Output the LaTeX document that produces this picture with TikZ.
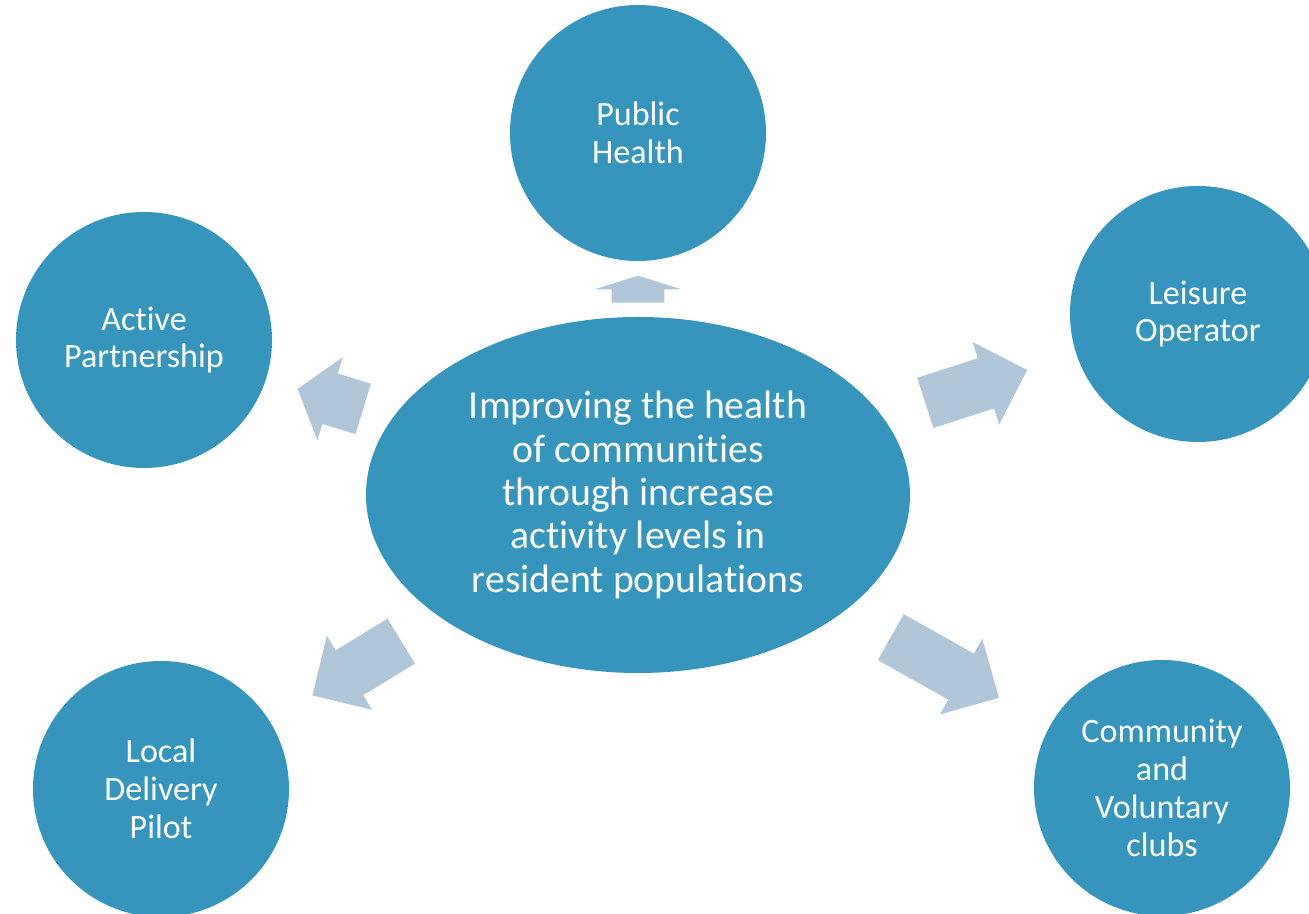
\documentclass[tikz,border=0pt]{standalone}
\usepackage{fontspec}
\setmainfont{Carlito}[Ligatures=NoCommon]
\usetikzlibrary{shapes.geometric,shapes.arrows}
\definecolor{hubblue}{HTML}{3595BC}
\definecolor{arrowblue}{HTML}{AFC7D9}
\begin{document}
\begin{tikzpicture}[x=0.2mm, y=0.2mm,
 bubble/.style={circle, fill=hubblue, text=white, minimum size=51.2mm, inner sep=0pt, align=center, font=\fontsize{19.4}{21.5}\selectfont},
 hub/.style={ellipse, fill=hubblue, text=white, minimum width=108.8mm, minimum height=71.2mm, inner sep=0pt, align=center, font=\fontsize{22.6}{24.7}\selectfont},
 blockarrow/.style={single arrow, fill=arrowblue, inner xsep=0pt, inner ysep=5.2mm, single arrow head extend=3.4mm, anchor=tail}]
 \useasboundingbox (0,0) rectangle (1309,914);
 \node[hub] (centre) at (638,419) {Improving the health\\ of communities\\ through increase\\ activity levels in\\ resident populations};
 \node[bubble] (health) at (638,781) {Public\\ Health};
 \node[bubble] (active) at (144,574) {Active\\ Partnership};
 \node[bubble] (leisure) at (1198,600) {Leisure\\ Operator};
 \node[bubble] (local) at (161,125) {Local\\ Delivery\\ Pilot};
 \node[bubble] (clubs) at (1162,126) {Community\\ and\\ Voluntary\\ clubs};
 % block arrows out of the centre
 \foreach \name/\x/\y/\ang/\len/\tip in {uparrow/638/611/90/5.4/145, leftarrow/363.5/505/163/13.7/104, rightarrow/925/511/17.9/21.4/90, lowleftarrow/401.5/273/211.4/20.8/90, lowrightarrow/890.5/277/-29.3/24.8/90}
 \node[blockarrow, rotate=\ang, minimum height=\len mm, single arrow tip angle=\tip] (\name) at (\x,\y) {};
\end{tikzpicture}
\end{document}
